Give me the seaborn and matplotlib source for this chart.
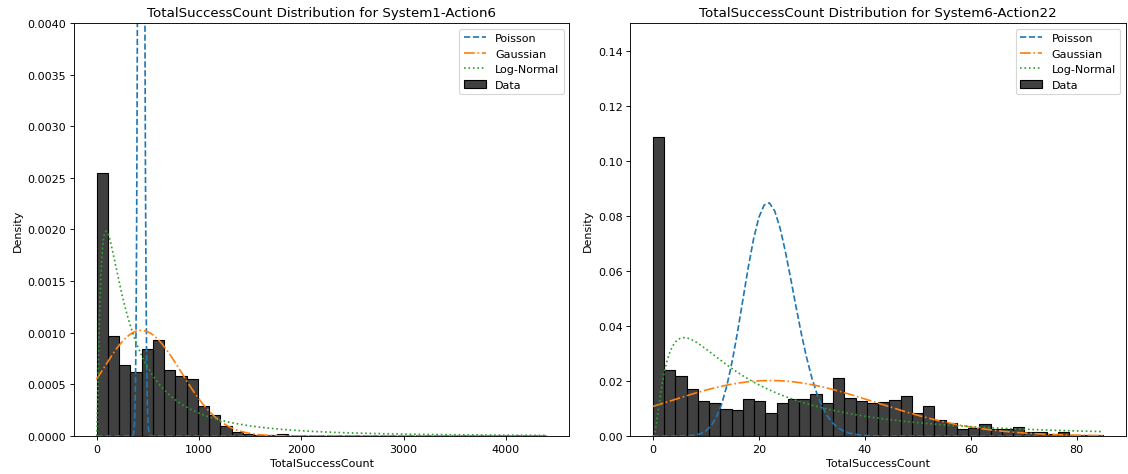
import math
import numpy as np
import pandas as pd
import matplotlib
matplotlib.use("Agg")
import matplotlib.pyplot as plt
import seaborn as sns

# Histogram densities (40 equal bins over the observed range of each metric)
s1_range = (0, 4400)
s1_density = [
    0.00255, 0.000968, 0.000684, 0.00062, 0.000842, 0.00093, 0.000639, 0.000581,
    0.000552, 0.00029, 0.0002, 0.0000968, 0.000039, 0.000023, 0.00001, 0.000005,
    0.00002, 0.0, 0.0, 0.0, 0.0, 0.0, 0.0, 0.0,
    0.0, 0.0, 0.0, 0.0, 0.0, 0.0, 0.0, 0.0,
    0.0, 0.0, 0.0, 0.0, 0.0, 0.0, 0.0, 0.000002,
]

s6_range = (0, 85)
s6_density = [
    0.1087, 0.0241, 0.0217, 0.0170, 0.0126, 0.0119, 0.0099, 0.0093,
    0.0133, 0.0126, 0.0082, 0.0121, 0.0134, 0.0134, 0.0153, 0.0121,
    0.0212, 0.0138, 0.0128, 0.0121, 0.0125, 0.0129, 0.0147, 0.0082,
    0.0110, 0.0057, 0.0049, 0.0026, 0.0030, 0.0044, 0.0027, 0.0025,
    0.0031, 0.0015, 0.0013, 0.0007, 0.0013, 0.0005, 0.0004, 0.0004,
]

# Fitted distribution parameters
s1_poisson_lambda = 436.0
s1_gauss_mu, s1_gauss_sigma = 436.0, 390.0
s1_lognorm_sigma, s1_lognorm_scale = 1.13, 337.0

s6_poisson_lambda = 22.2
s6_gauss_mu, s6_gauss_sigma = 22.2, 19.8
s6_lognorm_sigma, s6_lognorm_scale = 1.07, 18.5

titles = [
    "TotalSuccessCount Distribution for System1-Action6",
    "TotalSuccessCount Distribution for System6-Action22",
]
y_limits = [(0, 0.004), (0, 0.15)]


def poisson_pmf(k, lam):
    return np.array([math.exp(ki * math.log(lam) - lam - math.lgamma(ki + 1)) for ki in k])


def normal_pdf(x, mu, sigma):
    return np.exp(-0.5 * ((x - mu) / sigma) ** 2) / (sigma * math.sqrt(2 * math.pi))


def lognormal_pdf(x, sigma, scale):
    out = np.zeros_like(x, dtype=float)
    pos = x > 0
    xp = x[pos]
    out[pos] = np.exp(-0.5 * (np.log(xp / scale) / sigma) ** 2) / (xp * sigma * math.sqrt(2 * math.pi))
    return out


def draw_panel(ax, density, rng, lam, mu, sd, ln_sigma, ln_scale, title, ylim):
    n_bins = len(density)
    width = (rng[1] - rng[0]) / n_bins
    centers = rng[0] + width * (np.arange(n_bins) + 0.5)
    hist_df = pd.DataFrame({"value": centers, "density": density})
    sns.histplot(data=hist_df, x="value", weights="density", bins=n_bins, binrange=rng,
                 stat="count", color="black", alpha=0.75, edgecolor="black",
                 linewidth=1.0, label="Data", ax=ax)

    k = np.arange(rng[0], rng[1] + 1)
    x = np.linspace(rng[0], rng[1], 3000)
    sns.lineplot(x=k, y=poisson_pmf(k, lam), color="C0", linestyle="--",
                 label="Poisson", ax=ax)
    sns.lineplot(x=x, y=normal_pdf(x, mu, sd), color="C1", linestyle="-.",
                 label="Gaussian", ax=ax)
    sns.lineplot(x=x, y=lognormal_pdf(x, ln_sigma, ln_scale), color="C2", linestyle=":",
                 label="Log-Normal", ax=ax)

    ax.set_ylim(*ylim)
    ax.set_title(title, fontsize=12)
    ax.set_xlabel("TotalSuccessCount")
    ax.set_ylabel("Density")
    ax.legend(loc="upper right")


fig_w = 14.0
fig, axes = plt.subplots(1, 2, figsize=(fig_w, fig_w * 475 / 1128), dpi=1128 / fig_w)
fig.subplots_adjust(left=0.0656, right=0.998, top=0.9495, bottom=0.08, wspace=0.123)

draw_panel(axes[0], s1_density, s1_range, s1_poisson_lambda, s1_gauss_mu, s1_gauss_sigma,
           s1_lognorm_sigma, s1_lognorm_scale, titles[0], y_limits[0])
draw_panel(axes[1], s6_density, s6_range, s6_poisson_lambda, s6_gauss_mu, s6_gauss_sigma,
           s6_lognorm_sigma, s6_lognorm_scale, titles[1], y_limits[1])

fig.savefig("out.png", dpi=1128 / fig_w)
